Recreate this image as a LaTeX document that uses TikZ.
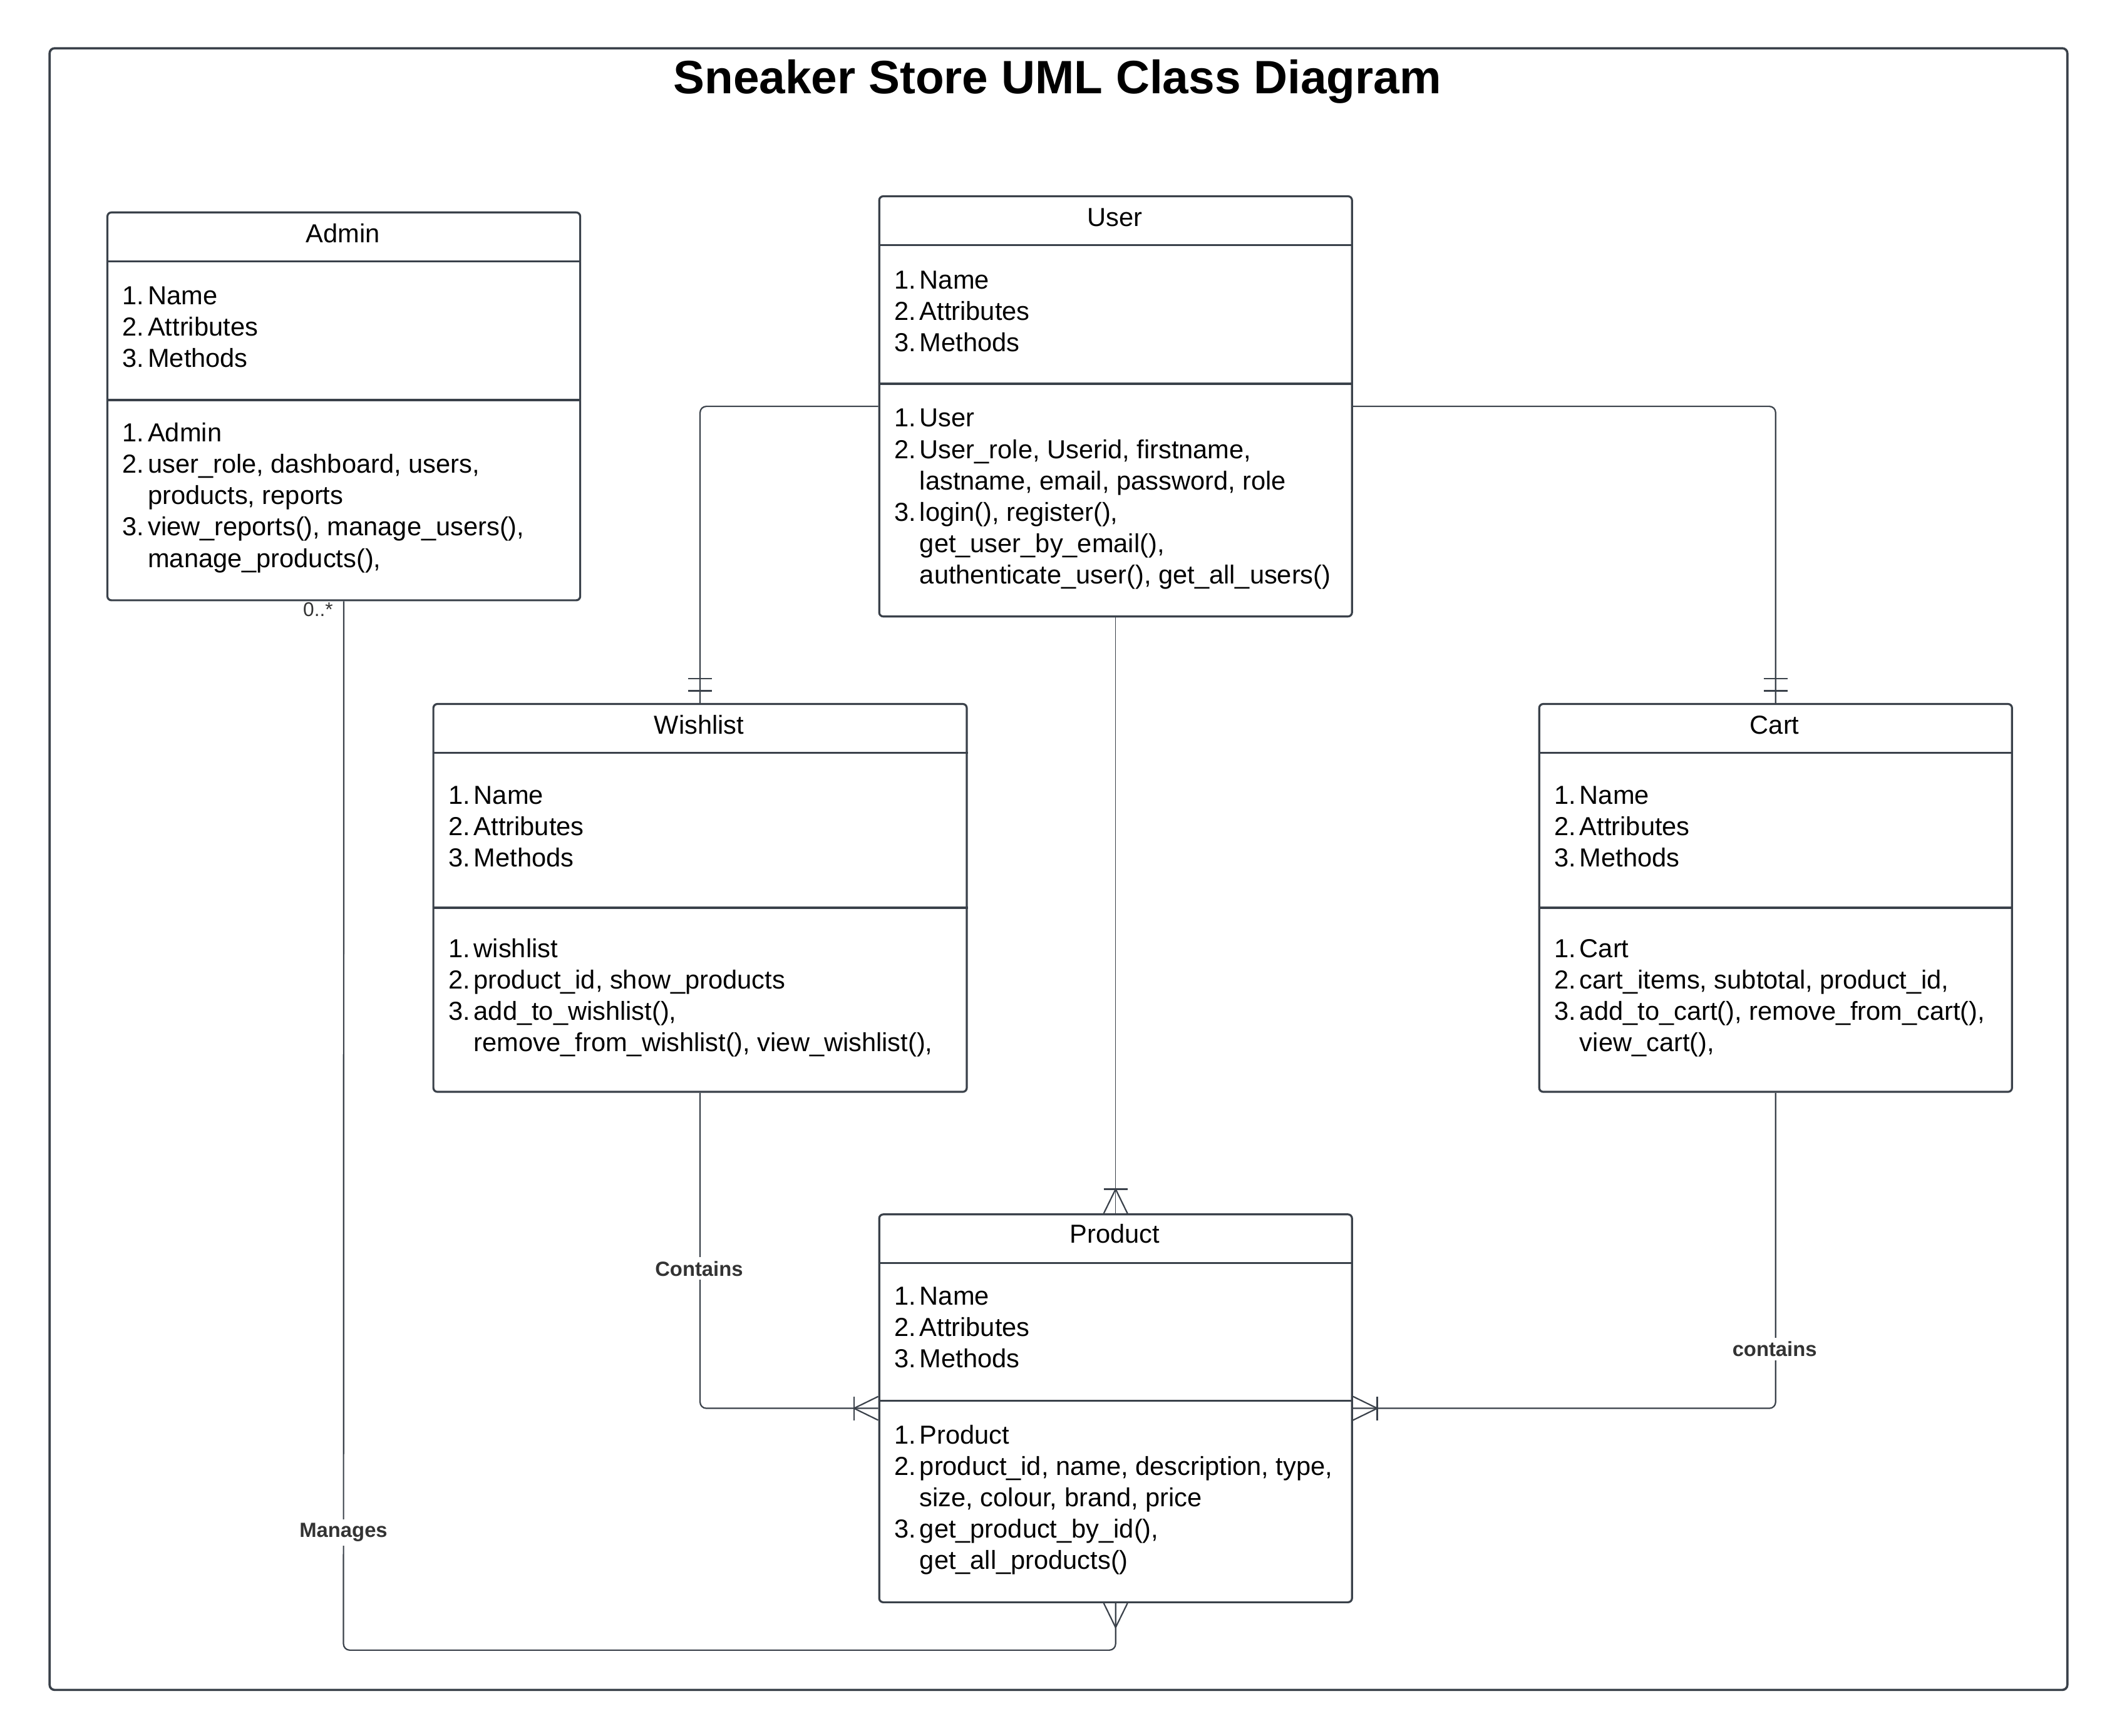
\documentclass[tikz,border=0pt]{standalone}
\usepackage{fontspec}
\setmainfont{Liberation Sans}
\usetikzlibrary{calc}
\definecolor{ln}{HTML}{3A414A}
\definecolor{lbl}{HTML}{333333}
\def\ux{0.5378pt}
\newcommand\li[4]{\node[itm] (#1) at (#2) {\makebox[10.2pt][l]{#3}#4};}
\begin{document}
\begin{tikzpicture}[x=0.5378pt,y=-0.5378pt,
  cls/.style={draw=ln, line width=0.8pt, rounded corners=1.6pt, inner sep=0, anchor=north west},
  sep/.style={draw=ln, line width=0.8pt},
  conn/.style={draw=ln, line width=0.55pt, rounded corners=2.5pt},
  marker/.style={draw=ln, line width=0.55pt},
  ttl/.style={font=\fontsize{10.4}{12.5}\selectfont, anchor=base, inner sep=0},
  itm/.style={font=\fontsize{10.4}{12.5}\selectfont, anchor=base west, inner sep=0},
  lab/.style={font=\fontsize{8.2}{10}\selectfont\bfseries, text=lbl, fill=white, inner sep=1.5pt},
]
\useasboundingbox (0,0) rectangle (1568,1289);
\node[draw=ln, line width=0.9pt, rounded corners=2pt, minimum width=1498*\ux, minimum height=1219*\ux, anchor=north west, inner sep=0] (frame) at (36,35) {};
\node[font=\fontsize{18.7}{22}\selectfont\bfseries, anchor=base, inner sep=0] (title) at (785,69.3) {Sneaker Store UML Class Diagram};

% class boxes
\node[cls, minimum width=351*\ux, minimum height=288*\ux] (admin) at (79,157) {};
\node[cls, minimum width=351*\ux, minimum height=312*\ux] (user) at (652,145) {};
\node[cls, minimum width=396*\ux, minimum height=288*\ux] (wish) at (321,522) {};
\node[cls, minimum width=351*\ux, minimum height=288*\ux] (cart) at (1142,522) {};
\node[cls, minimum width=351*\ux, minimum height=288*\ux] (prod) at (652,901) {};

% compartments
\draw[sep] (admin.west |- 0,194) -- (admin.east |- 0,194);
\draw[sep] (admin.west |- 0,297) -- (admin.east |- 0,297);
\draw[sep] (user.west |- 0,182) -- (user.east |- 0,182);
\draw[sep] (user.west |- 0,285) -- (user.east |- 0,285);
\draw[sep] (wish.west |- 0,559) -- (wish.east |- 0,559);
\draw[sep] (wish.west |- 0,674) -- (wish.east |- 0,674);
\draw[sep] (cart.west |- 0,559) -- (cart.east |- 0,559);
\draw[sep] (cart.west |- 0,674) -- (cart.east |- 0,674);
\draw[sep] (prod.west |- 0,938) -- (prod.east |- 0,938);
\draw[sep] (prod.west |- 0,1040) -- (prod.east |- 0,1040);

% Admin text
\node[ttl] (adminT) at (254.5,180) {Admin};
\li{a1}{90.5,226}{1.}{Name}
\li{a2}{90.5,249.3}{2.}{Attributes}
\li{a3}{90.5,272.6}{3.}{Methods}
\li{a4}{90.5,328}{1.}{Admin}
\li{a5}{90.5,351.3}{2.}{user\_role, dashboard, users,}
\li{a6}{90.5,374.6}{}{products, reports}
\li{a7}{90.5,397.9}{3.}{view\_reports(), manage\_users(),}
\li{a8}{90.5,421.2}{}{manage\_products(),}

% User text
\node[ttl] (userT) at (827.5,168) {User};
\li{u1}{663.5,214.4}{1.}{Name}
\li{u2}{663.5,237.7}{2.}{Attributes}
\li{u3}{663.5,261}{3.}{Methods}
\li{u4}{663.5,317}{1.}{User}
\li{u5}{663.5,340.3}{2.}{User\_role, Userid, firstname,}
\li{u6}{663.5,363.6}{}{lastname, email, password, role}
\li{u7}{663.5,386.9}{3.}{login(), register(),}
\li{u8}{663.5,410.2}{}{get\_user\_by\_email(),}
\li{u9}{663.5,433.5}{}{authenticate\_user(), get\_all\_users()}

% Wishlist text
\node[ttl] (wishT) at (519,545) {Wishlist};
\li{w1}{332.5,597}{1.}{Name}
\li{w2}{332.5,620.3}{2.}{Attributes}
\li{w3}{332.5,643.6}{3.}{Methods}
\li{w4}{332.5,711}{1.}{wishlist}
\li{w5}{332.5,734.3}{2.}{product\_id, show\_products}
\li{w6}{332.5,757.6}{3.}{add\_to\_wishlist(),}
\li{w7}{332.5,780.9}{}{remove\_from\_wishlist(), view\_wishlist(),}

% Cart text
\node[ttl] (cartT) at (1317.5,545) {Cart};
\li{c1}{1153.5,597}{1.}{Name}
\li{c2}{1153.5,620.3}{2.}{Attributes}
\li{c3}{1153.5,643.6}{3.}{Methods}
\li{c4}{1153.5,711}{1.}{Cart}
\li{c5}{1153.5,734.3}{2.}{cart\_items, subtotal, product\_id,}
\li{c6}{1153.5,757.6}{3.}{add\_to\_cart(), remove\_from\_cart(),}
\li{c7}{1153.5,780.9}{}{view\_cart(),}

% Product text
\node[ttl] (prodT) at (827.5,923) {Product};
\li{p1}{663.5,969}{1.}{Name}
\li{p2}{663.5,992.3}{2.}{Attributes}
\li{p3}{663.5,1015.6}{3.}{Methods}
\li{p4}{663.5,1072}{1.}{Product}
\li{p5}{663.5,1095.3}{2.}{product\_id, name, description, type,}
\li{p6}{663.5,1118.6}{}{size, colour, brand, price}
\li{p7}{663.5,1141.9}{3.}{get\_product\_by\_id(),}
\li{p8}{663.5,1165.2}{}{get\_all\_products()}

% connectors
\draw[conn] (user.west) -| (wish.north);
\draw[conn] (user.east) -| (cart.north);
\draw[conn, line width=0.3pt] (user.south) -- (prod.north);
\draw[conn] (wish.south) |- (prod.west);
\draw[conn] (cart.south) |- (prod.east);
\coordinate (mb) at (255,1225.3);
\draw[conn] (admin.south) -- (mb) -| (prod.south);

% markers: one and only one
\foreach \n in {wish,cart}{
  \draw[marker] ($(\n.north)+(-8.8,-9)$) -- ($(\n.north)+(8.8,-9)$);
  \draw[marker] ($(\n.north)+(-8.8,-18)$) -- ($(\n.north)+(8.8,-18)$);
}
% one or many at product top, left, right
\draw[marker] ($(prod.north)+(-8.8,-18)$) -- ($(prod.north)+(8.8,-18)$);
\draw[marker] ($(prod.north)+(-8.8,0)$) -- ($(prod.north)+(0,-18)$) -- ($(prod.north)+(8.8,0)$);
\draw[marker] ($(prod.west)+(-18,-8.8)$) -- ($(prod.west)+(-18,8.8)$);
\draw[marker] ($(prod.west)+(0,-8.8)$) -- ($(prod.west)+(-18,0)$) -- ($(prod.west)+(0,8.8)$);
\draw[marker] ($(prod.east)+(18,-8.8)$) -- ($(prod.east)+(18,8.8)$);
\draw[marker] ($(prod.east)+(0,-8.8)$) -- ($(prod.east)+(18,0)$) -- ($(prod.east)+(0,8.8)$);
% many at product bottom
\draw[marker] ($(prod.south)+(-8.8,0)$) -- ($(prod.south)+(0,18)$) -- ($(prod.south)+(8.8,0)$);

% labels
\node[lab] (lc1) at (519,942) {Contains};
\node[lab] (lc2) at (1317.5,1001.6) {contains};
\node[lab] (lm) at (255,1138) {Manages};
\node[font=\fontsize{7.9}{9}\selectfont, anchor=east, inner sep=0, text=lbl] (mult) at (247.5,452.8) {0..*};
\end{tikzpicture}
\end{document}
